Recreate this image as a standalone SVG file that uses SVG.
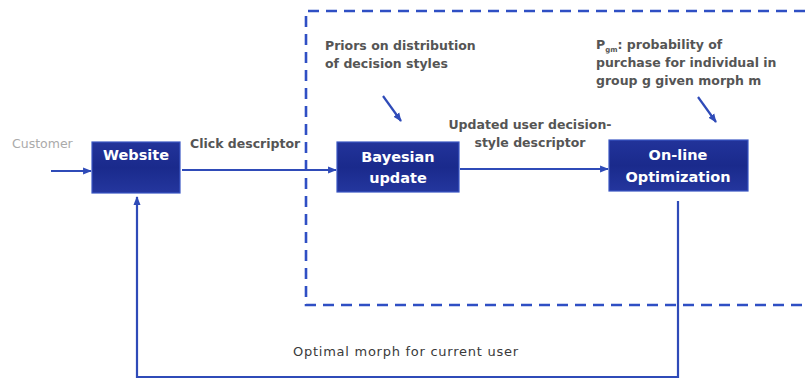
<svg xmlns="http://www.w3.org/2000/svg" width="805" height="381" viewBox="0 0 805 381">
  <defs>
    <linearGradient id="boxFill" x1="0" y1="0" x2="0" y2="1">
      <stop offset="0" stop-color="#22339a"/>
      <stop offset="0.5" stop-color="#1a2a8c"/>
      <stop offset="1" stop-color="#24369e"/>
    </linearGradient>
    <marker id="arrow" viewBox="0 0 10 10" refX="9" refY="5" markerWidth="4" markerHeight="4" orient="auto" markerUnits="strokeWidth">
      <path d="M0,1 L10,5 L0,9 z" fill="#2f4bb8"/>
    </marker>
  </defs>
  <style>
    .box { fill: url(#boxFill); stroke: #3a56c4; stroke-width: 1.2; }
    .boxText { font-family: "DejaVu Sans", "Liberation Sans", sans-serif; font-weight: bold; font-size: 14.5px; fill: #ffffff; text-anchor: middle; }
    .label { font-family: "DejaVu Sans", "Liberation Sans", sans-serif; font-weight: bold; font-size: 12.5px; fill: #555555; }
    .plain { font-family: "DejaVu Sans", "Liberation Sans", sans-serif; font-size: 13px; fill: #3a3a3a; }
    .wire { fill: none; stroke: #2f4bb8; stroke-width: 2.2; }
    .region { fill: none; stroke: #2f4fc4; stroke-width: 2.6; stroke-dasharray: 11 7; }
  </style>

  <rect width="805" height="381" fill="#ffffff"/>

  <!-- dashed boundary around the adaptive part, open on the right -->
  <path class="region" d="M805 11 H306 V305 H805"/>

  <!-- connectors -->
  <g id="connectors">
    <line class="wire" x1="51" y1="171" x2="91" y2="171" marker-end="url(#arrow)"/>
    <line class="wire" x1="182" y1="170" x2="336" y2="170" marker-end="url(#arrow)"/>
    <line class="wire" x1="460" y1="169" x2="608" y2="169" marker-end="url(#arrow)"/>
    <line class="wire" x1="383" y1="96" x2="401" y2="121" marker-end="url(#arrow)" stroke-width="2.8"/>
    <line class="wire" x1="698" y1="97" x2="716" y2="122" marker-end="url(#arrow)" stroke-width="2.8"/>
    <path class="wire" d="M678 201 V377 H137 V197" stroke-width="2" marker-end="url(#arrow)"/>
  </g>

  <!-- labels -->
  <g id="labels">
    <text x="12" y="148" font-family="DejaVu Sans, Liberation Sans, sans-serif" font-size="12.5" fill="#aaaaaa">Customer</text>
    <text class="label" x="190" y="148">Click descriptor</text>
    <text class="label" x="325" y="50">Priors on distribution</text>
    <text class="label" x="325" y="68">of decision styles</text>
    <text class="label" x="530" y="129" text-anchor="middle">Updated user decision-</text>
    <text class="label" x="530" y="147" text-anchor="middle">style descriptor</text>
    <text class="label" x="596" y="49">P<tspan font-size="7" dy="3">gm</tspan><tspan dy="-3">: probability of</tspan></text>
    <text class="label" x="596" y="67">purchase for individual in</text>
    <text class="label" x="596" y="85">group g given morph m</text>
    <text class="plain" x="293" y="356" textLength="225">Optimal morph for current  user</text>
  </g>

  <g id="website">
    <rect class="box" x="92" y="142" width="88" height="51"/>
    <text class="boxText" x="136" y="160">Website</text>
  </g>

  <g id="bayesian-update">
    <rect class="box" x="337" y="142" width="122" height="50"/>
    <text class="boxText" x="398" y="162">Bayesian</text>
    <text class="boxText" x="398" y="183">update</text>
  </g>

  <g id="online-optimization">
    <rect class="box" x="609" y="140" width="139" height="51"/>
    <text class="boxText" x="678" y="160">On-line</text>
    <text class="boxText" x="678" y="182">Optimization</text>
  </g>
</svg>
